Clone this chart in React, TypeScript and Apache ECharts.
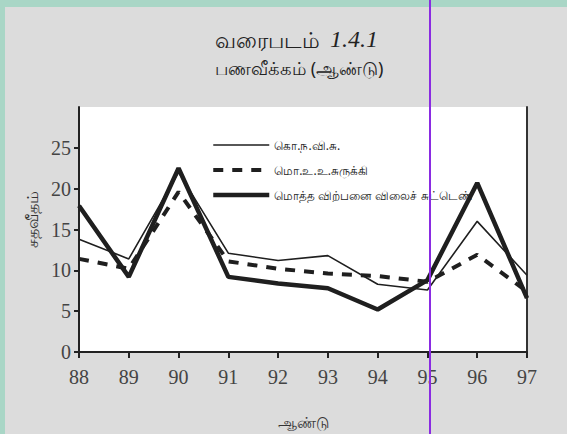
import React, { useEffect, useRef } from "react";
import * as echarts from "echarts";

const years = ["88", "89", "90", "91", "92", "93", "94", "95", "96", "97"];
const cpiValues = [13.8, 11.4, 22.0, 12.1, 11.2, 11.8, 8.3, 7.6, 16.0, 9.4];
const deflatorValues = [11.4, 10.2, 19.6, 11.1, 10.2, 9.6, 9.3, 8.6, 11.9, 7.4];
const wpiValues = [17.9, 9.2, 22.5, 9.2, 8.4, 7.8, 5.2, 8.8, 20.7, 6.6];
const seriesNames = ["கொ.ந.வி.சு.", "மொ.உ.உ.சுருக்கி", "மொத்த விற்பனை விலைச் சுட்டெண்"];
const titleWord = "வரைபடம்";
const titleNumber = "1.4.1";
const subTitleText = "பணவீக்கம் (ஆண்டு)";
const yAxisName = "சதவீதம்";
const xAxisName = "ஆண்டு";

export default function App() {
  const ref = useRef<HTMLDivElement>(null);
  useEffect(() => {
    if (!ref.current) return;
    const chart = echarts.init(ref.current, null, { renderer: "svg" });
    const lineColor = "#1f1f1f";
    const labelFont = "Liberation Serif";
    const styles = [
      { width: 1.6, type: "solid" as any },
      { width: 4, type: [10, 9] as any },
      { width: 4.5, type: "solid" as any },
    ];
    chart.setOption({
      animation: false,
      backgroundColor: "#a9d6c6",
      title: [
        {
          text: "{a|" + titleWord + "}  {b|" + titleNumber + "}",
          left: 210,
          top: 22,
          textStyle: {
            fontWeight: "normal",
            lineHeight: 24,
            rich: {
              a: { fontFamily: "Noto Sans", fontWeight: "normal", fontSize: 22, lineHeight: 24, color: "#222" },
              b: { fontFamily: labelFont, fontWeight: "normal", fontStyle: "italic", fontSize: 24, lineHeight: 24, color: "#222" },
            },
          },
        },
        {
          text: subTitleText,
          left: 210,
          top: 53,
          textStyle: { fontFamily: "Noto Sans", fontWeight: "normal", fontSize: 18, lineHeight: 20, color: "#222" },
        },
      ],
      graphic: [
        { type: "rect", z: -10, shape: { x: 5, y: 7, width: 562, height: 427 }, style: { fill: "#dcdcdc" } },
        { type: "line", z: 100, shape: { x1: 430, y1: 0, x2: 430, y2: 434 }, style: { stroke: "#8a2be2", lineWidth: 2 } },
      ],
      legend: {
        orient: "vertical",
        left: 206,
        top: 134,
        itemWidth: 56,
        itemHeight: 14,
        itemGap: 13,
        itemStyle: { opacity: 0 },
        data: seriesNames.map((n, i) => ({
          name: n,
          itemStyle: { opacity: 0 },
          lineStyle: { color: lineColor, width: styles[i].width, type: styles[i].type },
        })),
        textStyle: { fontSize: 12, color: "#222", fontFamily: "Noto Sans" },
      },
      grid: { left: 79, right: 40, top: 107, bottom: 77, show: true, backgroundColor: "#ffffff", borderWidth: 0 },
      xAxis: {
        type: "category",
        data: years,
        boundaryGap: false,
        name: xAxisName,
        nameLocation: "middle",
        nameGap: 62,
        nameTextStyle: { fontSize: 15, color: "#333", fontFamily: "Noto Sans" },
        axisLine: { lineStyle: { color: "#222", width: 2 } },
        axisTick: { length: 6, lineStyle: { color: "#222", width: 2 } },
        axisLabel: { fontFamily: labelFont, fontSize: 20, color: "#444", margin: 15 },
        splitLine: { show: false },
      },
      yAxis: [
        {
          type: "value",
          min: 0,
          max: 30,
          interval: 5,
          name: yAxisName,
          nameLocation: "middle",
          nameGap: 30,
          nameRotate: 90,
          nameTextStyle: { fontSize: 16, color: "#333", fontFamily: "Noto Sans", padding: [0, 0, 0, 20] },
          axisLine: { show: true, lineStyle: { color: "#222", width: 2 } },
          axisTick: { show: true, length: 5, lineStyle: { color: "#222", width: 2 } },
          axisLabel: { fontFamily: labelFont, fontSize: 20, color: "#444", margin: 8, showMaxLabel: false },
          splitLine: { show: false },
        },
        {
          type: "value",
          min: 0,
          max: 30,
          interval: 5,
          position: "right",
          axisLine: { show: true, lineStyle: { color: "#333", width: 2 } },
          axisTick: { show: false },
          axisLabel: { show: false },
          splitLine: { show: false },
        },
      ],
      series: [
        {
          name: seriesNames[0],
          type: "line",
          data: cpiValues,
          symbol: "none",
          lineStyle: { color: lineColor, width: styles[0].width, type: styles[0].type },
          itemStyle: { color: lineColor },
          z: 2,
        },
        {
          name: seriesNames[1],
          type: "line",
          data: deflatorValues,
          symbol: "none",
          lineStyle: { color: lineColor, width: styles[1].width, type: styles[1].type },
          itemStyle: { color: lineColor },
          z: 3,
        },
        {
          name: seriesNames[2],
          type: "line",
          data: wpiValues,
          symbol: "none",
          lineStyle: { color: lineColor, width: styles[2].width, type: styles[2].type },
          itemStyle: { color: lineColor },
          z: 4,
        },
      ],
    });
    return () => chart.dispose();
  }, []);
  return <div ref={ref} style={{ position: "fixed", left: 0, top: 0, width: 567, height: 434 }} />;
}
